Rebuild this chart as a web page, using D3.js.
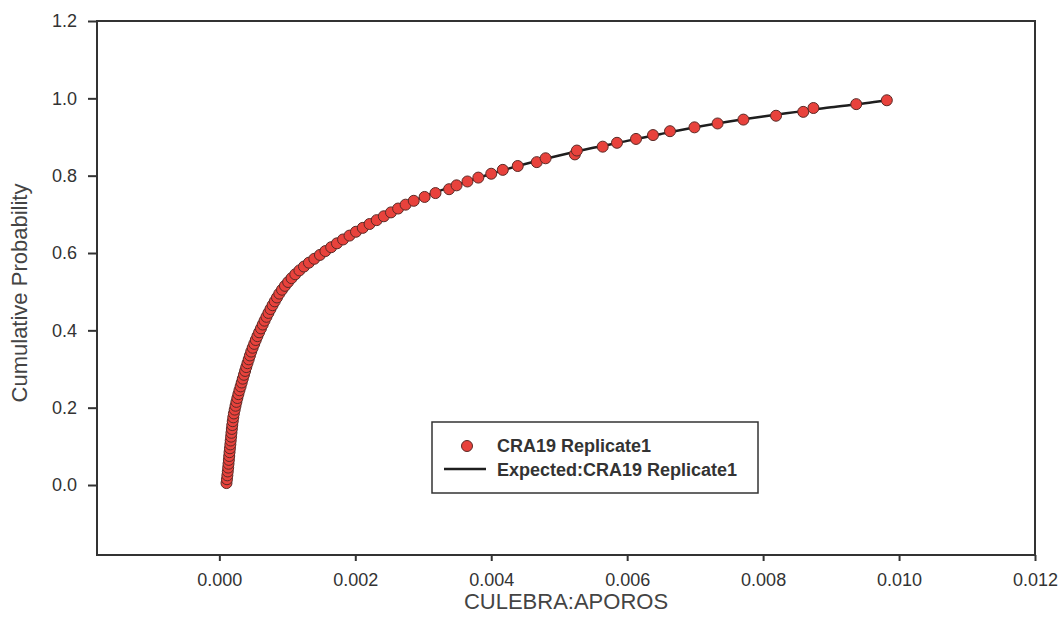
<!DOCTYPE html>
<html>
<head>
<meta charset="utf-8">
<script src="https://cdn.jsdelivr.net/npm/d3@7"></script>
<style>
  html, body { margin: 0; padding: 0; background: #fff; overflow: hidden; }
  svg { display: block; }
  text { font-family: Arial, "Liberation Sans", sans-serif; }
</style>
</head>
<body>
<svg id="chart"></svg>
<script>
let outerWidth = 1060;
let outerHeight = 632;
let margins = { top: 21, bottom: 77, left: 97, right: 25 };
let innerWidth = outerWidth - margins.left - margins.right;
let innerHeight = outerHeight - margins.top - margins.bottom;

// observed values (x in CULEBRA:APOROS, y = cumulative probability)
let obsX = [
  0.000105, 0.000112, 0.000118, 0.000124, 0.000130, 0.000135, 0.000140, 0.000145, 0.000150, 0.000156,
  0.000162, 0.000167, 0.000173, 0.000178, 0.000184, 0.000190, 0.000197, 0.000205, 0.000214, 0.000226,
  0.000238, 0.000251, 0.000265, 0.000280, 0.000296, 0.000313, 0.000329, 0.000345, 0.000362, 0.000379,
  0.000396, 0.000414, 0.000432, 0.000450, 0.000469, 0.000490, 0.000513, 0.000536, 0.000560, 0.000585,
  0.000612, 0.000638, 0.000665, 0.000693, 0.000722, 0.000752, 0.000783, 0.000815, 0.000848, 0.000882,
  0.000922, 0.000965, 0.001012, 0.001062, 0.001117, 0.001178, 0.001245, 0.001318, 0.001397, 0.001480,
  0.001560, 0.001645, 0.001730, 0.001820, 0.001915, 0.002010, 0.002110, 0.002210, 0.002315, 0.002420,
  0.002525, 0.002630, 0.002740, 0.002860, 0.003020, 0.003180, 0.003380, 0.003490, 0.003650, 0.003810,
  0.004000, 0.004170, 0.004390, 0.004670, 0.004800, 0.005230, 0.005260, 0.005640, 0.005850, 0.006130,
  0.006380, 0.006630, 0.006990, 0.007330, 0.007710, 0.008190, 0.008590, 0.008740, 0.009370, 0.009820
]
let obsP = [
  0.005, 0.015, 0.025, 0.035, 0.045, 0.055, 0.065, 0.075, 0.085, 0.095,
  0.105, 0.115, 0.125, 0.135, 0.145, 0.155, 0.165, 0.175, 0.185, 0.195,
  0.205, 0.215, 0.225, 0.235, 0.245, 0.255, 0.265, 0.275, 0.285, 0.295,
  0.305, 0.315, 0.325, 0.335, 0.345, 0.355, 0.365, 0.375, 0.385, 0.395,
  0.405, 0.415, 0.425, 0.435, 0.445, 0.455, 0.465, 0.475, 0.485, 0.495,
  0.505, 0.515, 0.525, 0.535, 0.545, 0.555, 0.565, 0.575, 0.585, 0.595,
  0.605, 0.615, 0.625, 0.635, 0.645, 0.655, 0.665, 0.675, 0.685, 0.695,
  0.705, 0.715, 0.725, 0.735, 0.745, 0.755, 0.765, 0.775, 0.785, 0.795,
  0.805, 0.815, 0.825, 0.835, 0.845, 0.855, 0.865, 0.875, 0.885, 0.895,
  0.905, 0.915, 0.925, 0.935, 0.945, 0.955, 0.965, 0.975, 0.985, 0.995
]

// expected curve
let expX = [0.00010, 0.00014, 0.00017, 0.00020, 0.00024, 0.00030, 0.00040, 0.00050, 0.00060, 0.00075,
  0.00090, 0.00105, 0.00120, 0.00140, 0.00160, 0.00180, 0.00200, 0.00230, 0.00260, 0.00300,
  0.00350, 0.00400, 0.00450, 0.00500, 0.00550, 0.00600, 0.00650, 0.00700, 0.00750, 0.00800,
  0.00850, 0.00900, 0.00950, 0.00982]
let expP = [0.000, 0.055, 0.115, 0.165, 0.203, 0.244, 0.305, 0.358, 0.402, 0.454,
  0.500, 0.535, 0.562, 0.593, 0.612, 0.632, 0.652, 0.682, 0.712, 0.745,
  0.776, 0.805, 0.830, 0.852, 0.872, 0.890, 0.908, 0.925, 0.940, 0.953,
  0.965, 0.977, 0.987, 0.995]

let xTicks = [0, 0.002, 0.004, 0.006, 0.008, 0.010, 0.012]
let yTicks = [0, 0.2, 0.4, 0.6, 0.8, 1.0, 1.2]
let seriesName = 'CRA19 Replicate1'
let expectedName = 'Expected:CRA19 Replicate1'

let svg = d3.select('#chart')
  .attr('width', outerWidth)
  .attr('height', outerHeight)

let inner = svg.append('g')
  .attr('transform', 'translate(' + margins.left + ',' + margins.top + ')')

let xScale = d3.scaleLinear().domain([-0.0018, 0.012]).range([0, innerWidth])
let yScale = d3.scaleLinear().domain([-0.181, 1.2]).range([innerHeight, 0])

let xAxis = d3.axisBottom(xScale).tickValues(xTicks).tickFormat(d3.format('.3f')).tickSize(6).tickPadding(12)
let yAxis = d3.axisLeft(yScale).tickValues(yTicks).tickFormat(d3.format('.1f')).tickSize(9).tickPadding(11)

inner.append('g') // x axis
  .attr('transform', 'translate(0,' + innerHeight + ')')
  .call(xAxis)
  .call(g => g.select('.domain').remove())
  .call(g => g.selectAll('line').attr('stroke', '#333').attr('stroke-width', 2))
  .call(g => g.selectAll('text').style('font-size', '18px').attr('fill', '#333'))

inner.append('g') // y axis
  .call(yAxis)
  .call(g => g.select('.domain').remove())
  .call(g => g.selectAll('line').attr('stroke', '#333').attr('stroke-width', 2))
  .call(g => g.selectAll('text').style('font-size', '18px').attr('fill', '#333'))

inner.append('rect') // frame
  .attr('width', innerWidth)
  .attr('height', innerHeight)
  .attr('fill', 'none')
  .attr('stroke', '#333')
  .attr('stroke-width', 2)

let lineGen = d3.line()
  .x((d, i) => xScale(expX[i]))
  .y(d => yScale(d))
  .curve(d3.curveMonotoneX)

inner.append('path') // expected line
  .attr('d', lineGen(expP))
  .attr('fill', 'none')
  .attr('stroke', '#1e1e1e')
  .attr('stroke-width', 2.5)

inner.selectAll('circle.obs')
  .data(obsP)
  .enter()
  .append('circle')
  .attr('class', 'obs')
  .attr('cx', (d, i) => xScale(obsX[i]))
  .attr('cy', d => yScale(d))
  .attr('r', 5.5)
  .attr('fill', '#e8423c')
  .attr('stroke', '#5b2a26')
  .attr('stroke-width', 1)

// legend
let legend = svg.append('g').attr('transform', 'translate(432,422)')
legend.append('rect')
  .attr('width', 326)
  .attr('height', 71)
  .attr('fill', '#fff')
  .attr('stroke', '#333')
  .attr('stroke-width', 1.5)
legend.append('circle')
  .attr('cx', 35).attr('cy', 24).attr('r', 5.5)
  .attr('fill', '#e8423c').attr('stroke', '#5b2a26')
legend.append('line')
  .attr('x1', 12).attr('x2', 54).attr('y1', 47).attr('y2', 47)
  .attr('stroke', '#1e1e1e').attr('stroke-width', 2.5)
legend.append('text')
  .attr('x', 65).attr('y', 30)
  .style('font-size', '18px').style('font-weight', 'bold').attr('fill', '#333')
  .text(seriesName)
legend.append('text')
  .attr('x', 65).attr('y', 54)
  .style('font-size', '18px').style('font-weight', 'bold').attr('fill', '#333')
  .text(expectedName)

svg.append('text') // x title
  .attr('x', margins.left + innerWidth / 2)
  .attr('y', 609)
  .attr('text-anchor', 'middle')
  .style('font-size', '22px')
  .attr('fill', '#444')
  .text('CULEBRA:APOROS')

svg.append('text') // y title
  .attr('x', 0)
  .attr('y', 0)
  .attr('text-anchor', 'middle')
  .attr('transform', 'translate(27,293) rotate(-90)')
  .style('font-size', '22px')
  .attr('fill', '#444')
  .text('Cumulative Probability')
</script>
</body>
</html>
